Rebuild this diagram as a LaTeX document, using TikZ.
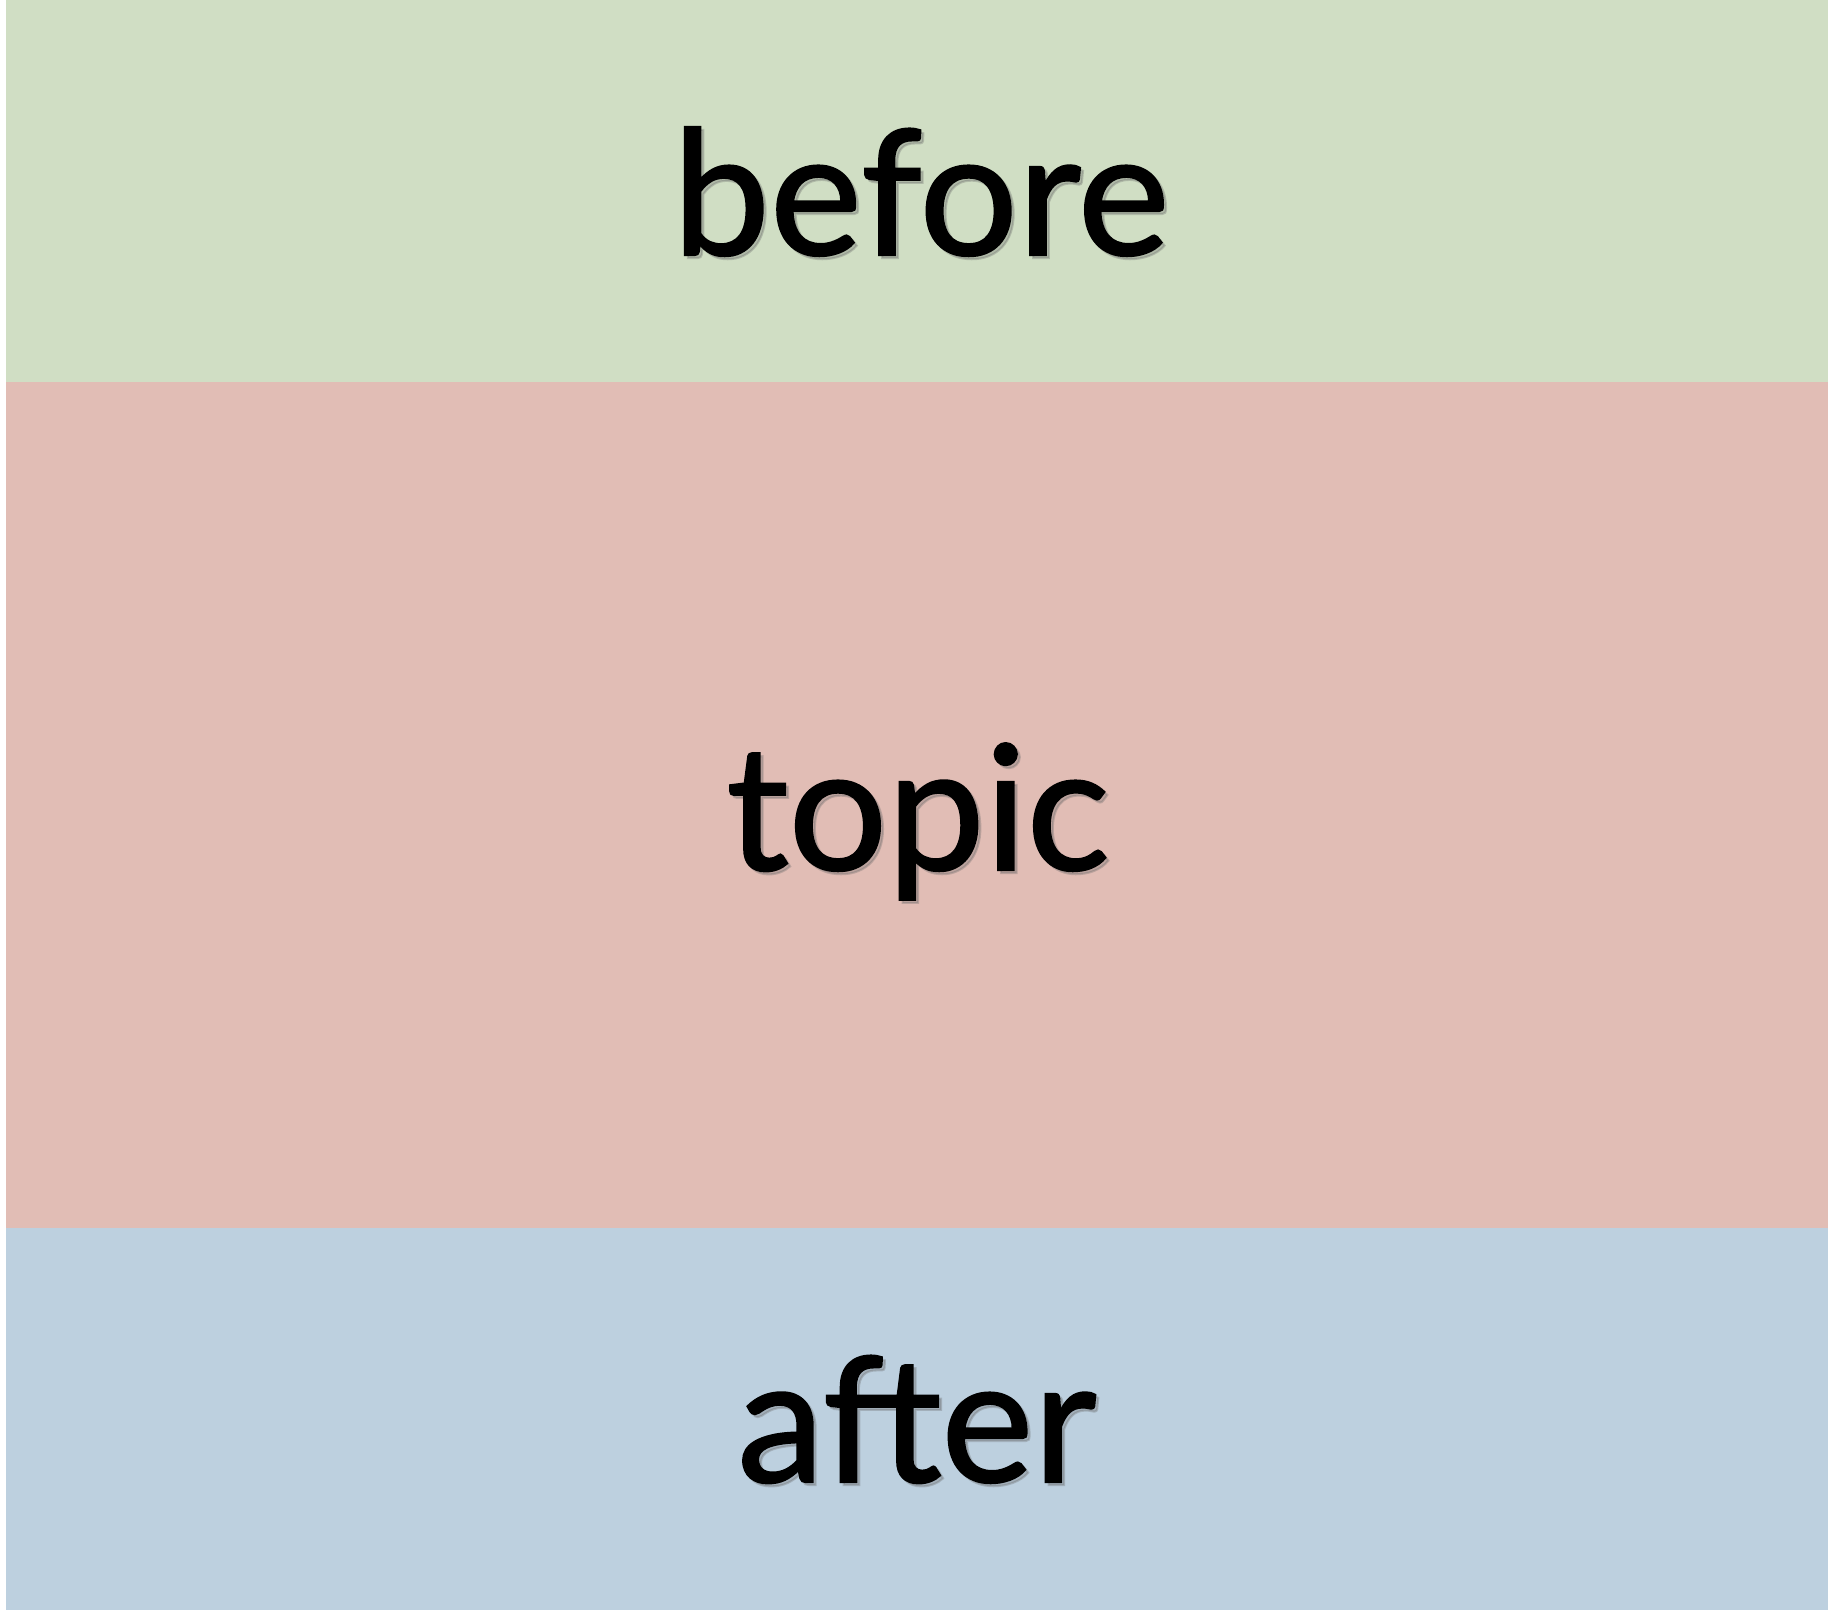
\documentclass[tikz,border=0pt]{standalone}
\usepackage{fontspec}
\setmainfont{Lato}[AutoFakeBold=1.2]
\definecolor{bandgreen}{HTML}{D0DEC4}
\definecolor{bandred}{HTML}{E1BDB5}
\definecolor{bandblue}{HTML}{BDD0DF}
\begin{document}
\begin{tikzpicture}[x=1pt,y=-1pt,
  label/.style={anchor=base,inner sep=0pt,font=\fontsize{174}{200}\selectfont\bfseries,text=black},
  shade/.style={anchor=base,inner sep=0pt,font=\fontsize{174}{200}\selectfont\bfseries,text=black!60,opacity=0.3}]
\useasboundingbox (0,0) rectangle (1828,1613);
\fill[white] (0,0) rectangle (1828,1613);
\fill[bandgreen] (6,0) rectangle (1828,382);
\fill[bandred] (6,382) rectangle (1828,1228);
\fill[bandblue] (6,1228) rectangle (1828,1610);
\node[shade] at (924,258) {before};
\node[shade] at (921,873) {topic};
\node[shade] at (920,1485) {after};
\node[label] (before) at (921,255) {before};
\node[label] (topic) at (918,870) {topic};
\node[label] (after) at (917,1482) {after};
\end{tikzpicture}
\end{document}
